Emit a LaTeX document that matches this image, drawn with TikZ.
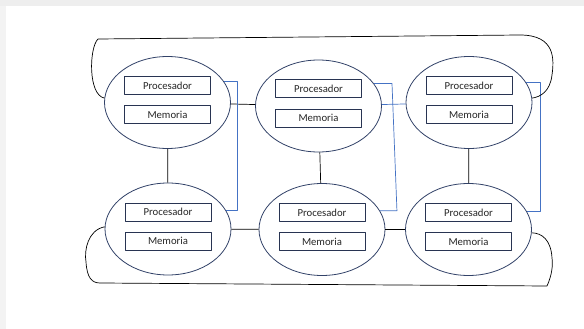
\documentclass[tikz,border=0pt]{standalone}
\usepackage{fontspec}
\setmainfont{Carlito}
\usetikzlibrary{shapes.geometric, positioning}
\definecolor{rim}{RGB}{50,66,104}
\definecolor{boxrim}{RGB}{40,52,82}
\definecolor{busblue}{RGB}{68,114,196}
\definecolor{frame}{RGB}{238,238,238}

\begin{document}
\begin{tikzpicture}[x=1pt,y=-1pt,line join=round]
    \tikzstyle{cell}=[ellipse, draw=rim, line width=0.8pt, minimum width=126pt, minimum height=92pt, inner sep=0pt]
    \tikzstyle{part}=[rectangle, draw=boxrim, line width=1pt, minimum width=86pt, minimum height=18pt, inner sep=0pt, text=black!85, font=\fontsize{10.7}{12}\selectfont]
    \tikzstyle{link}=[draw=black, line width=0.7pt]
    \tikzstyle{bus}=[draw=busblue, line width=0.7pt]

    % page and grey edge
    \useasboundingbox (0,0) rectangle (584,329);
    \fill[white] (0,0) rectangle (584,329);
    \fill[frame] (0,0) rectangle (584,6);
    \fill[frame!70] (0,6) rectangle (6,329);

    % nodes: ellipse with processor and memory
    \foreach \n/\x/\y in {1/167.5/102.5, 2/318.5/106, 3/469/102.5, 4/168/229, 5/322/229.5, 6/468.5/229.5}{
        \node[cell] (E-\n) at (\x,\y) {};
        \node[part] (P-\n) at (\x,\y-17) {Procesador};
        \node[part] (M-\n) at (\x,\y+12) {Memoria};
    }

    % mesh links
    \path[link] (E-1) -- (E-2);
    \path[bus] (E-2) -- (E-3);
    \path[link] (E-4) -- (E-5);
    \path[link] (E-5) -- (E-6);
    \path[link] (E-1) -- (E-4);
    \path[link] (E-2) -- (E-5);
    \path[link] (E-3) -- (E-6);

    % blue column buses
    \path[bus] (E-1.20) -- ++(13,0) |- (E-4.18);
    \path[bus] (E-2.22) -- ++(18,0) -- ([xshift=17pt]E-5.18) -- (E-5.18);
    \path[bus] (E-3.19) -- ++(14,0) |- (E-6.17);

    % wrap-around rings
    \path[link] (E-1.176) .. controls (88,95) and (89,48) .. (98,39)
        -- (520,35) .. controls (556,35) and (554,60) .. (552,75)
        .. controls (550,92) and (540,97) .. (E-3.4);
    \path[link] (E-4.178) .. controls (88,230) and (84,250) .. (86,262)
        .. controls (87,278) and (92,283) .. (100,283)
        -- (547,286) .. controls (552,275) and (553,265) .. (552,258)
        .. controls (551,240) and (542,233) .. (E-6.357);
\end{tikzpicture}
\end{document}
